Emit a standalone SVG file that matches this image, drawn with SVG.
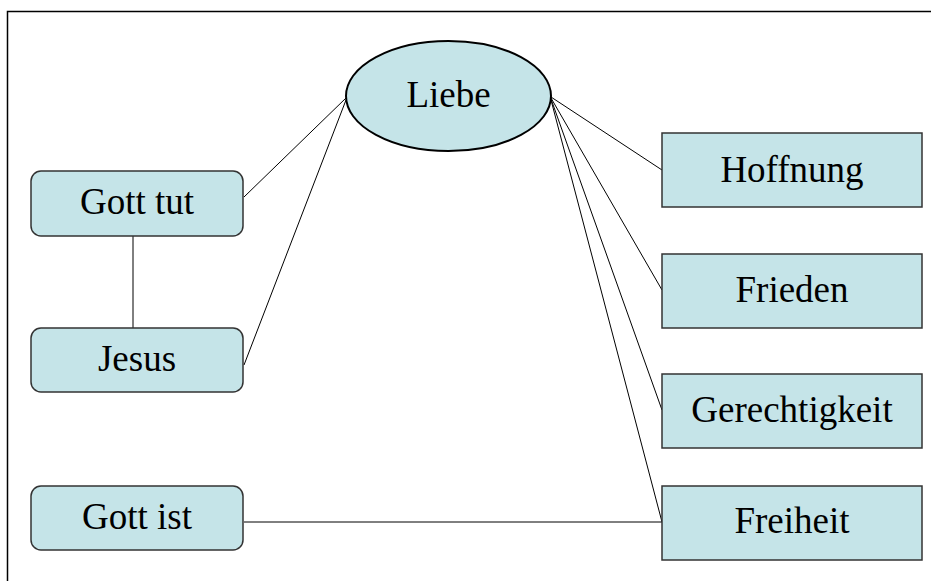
<svg xmlns="http://www.w3.org/2000/svg" width="931" height="581" viewBox="0 0 931 581">
<style>
.box{fill:#c5e4e8;stroke:#333;stroke-width:1.5}
.lbl{font-family:"Liberation Serif","Times New Roman",serif;font-size:37px;fill:#000;text-anchor:middle}
.con{stroke:#000;stroke-width:1;fill:none}
.frame{stroke:#000;stroke-width:1.5;fill:none}
</style>
<rect width="931" height="581" fill="#fff"/>
<path class="frame" d="M7.5 581 V11.5 H931"/>
<g id="connectors">
<line class="con" x1="346" y1="98" x2="244" y2="197"/>
<line class="con" x1="346" y1="100" x2="244" y2="365"/>
<line class="con" x1="133" y1="236" x2="133" y2="328"/>
<line class="con" x1="244" y1="522" x2="662" y2="522"/>
<line class="con" x1="551" y1="97" x2="662" y2="170"/>
<line class="con" x1="551" y1="98" x2="662" y2="290"/>
<line class="con" x1="551" y1="99" x2="662" y2="410"/>
<line class="con" x1="551" y1="100" x2="662" y2="522"/>
</g>
<g id="liebe">
<ellipse class="box" cx="448.5" cy="96" rx="102.5" ry="55" style="stroke:#000;stroke-width:2"/>
<text class="lbl" x="448.5" y="107">Liebe</text>
</g>
<g id="gott-tut">
<rect class="box" x="31" y="171" width="212" height="65" rx="10"/>
<text class="lbl" x="137" y="214">Gott tut</text>
</g>
<g id="jesus">
<rect class="box" x="31" y="328" width="212" height="64" rx="10"/>
<text class="lbl" x="137" y="371">Jesus</text>
</g>
<g id="gott-ist">
<rect class="box" x="31" y="486" width="212" height="64" rx="10"/>
<text class="lbl" x="137" y="529">Gott ist</text>
</g>
<g id="hoffnung">
<rect class="box" x="662" y="133" width="260" height="74"/>
<text class="lbl" x="792" y="182">Hoffnung</text>
</g>
<g id="frieden">
<rect class="box" x="662" y="254" width="260" height="74"/>
<text class="lbl" x="792" y="302">Frieden</text>
</g>
<g id="gerechtigkeit">
<rect class="box" x="662" y="374" width="260" height="74"/>
<text class="lbl" x="792" y="422">Gerechtigkeit</text>
</g>
<g id="freiheit">
<rect class="box" x="662" y="486" width="260" height="74"/>
<text class="lbl" x="792" y="533">Freiheit</text>
</g>
</svg>
